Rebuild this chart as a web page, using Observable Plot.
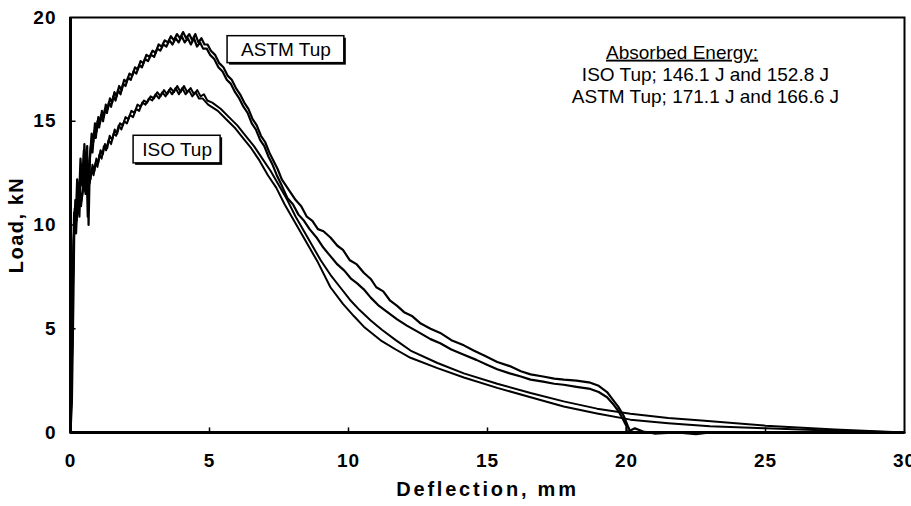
<!DOCTYPE html>
<html><head><meta charset="utf-8">
<script src="https://cdn.jsdelivr.net/npm/d3@7"></script>
<script src="https://cdn.jsdelivr.net/npm/@observablehq/plot@0.6"></script>
<style>
html,body{margin:0;padding:0;background:#fff;}
</style></head>
<body><div id="chart"></div>
<script>
// ---- data (deflection mm, load kN) ----
const deflectionTicks = [0, 5, 10, 15, 20, 25, 30];
const loadTicks = [0, 5, 10, 15, 20];

const astm1 = [[0,0],[0.05,1.5],[0.1,6],[0.14,10.2],[0.2,9.6],[0.26,11.5],[0.32,10.4],[0.38,12.8],[0.44,11.9],[0.5,13.9],[0.56,12.2],[0.6,13.8],[0.65,10.0],[0.7,13.2],[0.76,14.4],[0.82,14.0],[0.88,14.9],[0.94,14.5],[1.0,15.2],[1.06,14.9],[1.13,15.5],[1.2,15.2],[1.27,15.8],[1.34,15.6],[1.42,16.1],[1.5,15.9],[1.58,16.4],[1.66,16.2],[1.75,16.7],[1.84,16.5],[1.93,17.0],[2.02,16.9],[2.12,17.3],[2.22,17.2],[2.32,17.6],[2.42,17.5],[2.52,17.9],[2.62,17.8],[2.73,18.2],[2.84,18.1],[2.95,18.4],[3.06,18.3],[3.17,18.7],[3.28,18.6],[3.39,18.9],[3.5,18.8],[3.61,19.1],[3.72,18.9],[3.83,19.2],[3.94,19.0],[4.05,19.3],[4.16,19.0],[4.27,19.2],[4.38,18.9],[4.49,19.2],[4.6,18.8],[4.71,19.0],[4.82,18.7],[4.93,18.7],[5.05,18.4],[5.2,18.2],[5.35,17.8],[5.5,17.6],[5.65,17.2],[5.8,17.0],[5.95,16.6],[6.1,16.3],[6.25,15.9],[6.4,15.6],[6.55,15.1],[6.7,14.8],[6.85,14.3],[7.0,14.0],[7.15,13.5],[7.3,13.1],[7.45,12.7],[7.6,12.2],[7.75,11.9],[7.9,11.6],[8.1,11.2],[8.3,10.9],[8.5,10.4],[8.7,10.2],[8.9,9.8],[9.1,9.7],[9.35,9.4],[9.6,9.0],[9.8,8.8],[10.05,8.3],[10.3,8.1],[10.55,7.7],[10.8,7.4],[11.0,7.0],[11.25,6.8],[11.5,6.35],[11.75,6.1],[12.0,5.8],[12.3,5.6],[12.6,5.25],[12.95,5.0],[13.3,4.8],[13.7,4.45],[14.15,4.2],[14.5,3.95],[14.9,3.7],[15.35,3.4],[15.8,3.2],[16.2,2.95],[16.55,2.8],[17.0,2.7],[17.4,2.6],[17.75,2.55],[18.2,2.5],[18.7,2.4],[19.0,2.25],[19.3,1.95],[19.5,1.6],[19.7,1.25],[19.9,0.8],[20.05,0.3],[20.15,0]];

const astm2 = [[0,0],[0.04,2.5],[0.09,8],[0.13,10.6],[0.18,10.0],[0.24,12.2],[0.3,11.0],[0.36,13.2],[0.42,12.0],[0.48,13.6],[0.54,11.5],[0.58,12.8],[0.62,10.4],[0.67,12.9],[0.73,13.8],[0.79,13.5],[0.85,14.5],[0.91,14.2],[0.97,15.0],[1.03,14.7],[1.1,15.3],[1.17,15.0],[1.24,15.6],[1.31,15.4],[1.38,15.9],[1.46,15.7],[1.54,16.2],[1.62,16.0],[1.71,16.5],[1.8,16.3],[1.89,16.8],[1.98,16.7],[2.07,17.1],[2.17,17.0],[2.27,17.4],[2.37,17.3],[2.47,17.7],[2.57,17.6],[2.68,18.0],[2.79,17.9],[2.9,18.2],[3.01,18.1],[3.12,18.5],[3.23,18.4],[3.34,18.7],[3.45,18.6],[3.56,18.9],[3.67,18.7],[3.78,19.0],[3.89,18.8],[4.0,19.1],[4.11,18.8],[4.22,19.0],[4.33,18.7],[4.44,19.0],[4.55,18.6],[4.66,18.8],[4.77,18.5],[4.9,18.5],[5.02,18.2],[5.17,18.0],[5.32,17.6],[5.47,17.4],[5.62,17.0],[5.77,16.8],[5.92,16.4],[6.07,16.1],[6.22,15.7],[6.37,15.4],[6.52,14.9],[6.67,14.6],[6.82,14.1],[6.97,13.8],[7.12,13.3],[7.27,12.9],[7.42,12.4],[7.6,11.9],[7.8,11.3],[8.0,11.0],[8.2,10.5],[8.4,10.2],[8.6,9.8],[8.85,9.4],[9.1,8.9],[9.35,8.5],[9.6,8.1],[9.85,7.8],[10.1,7.4],[10.3,7.2],[10.55,6.9],[10.8,6.5],[11.1,6.1],[11.4,5.8],[11.75,5.45],[12.1,5.15],[12.5,4.85],[12.95,4.5],[13.3,4.3],[13.7,4.0],[14.15,3.75],[14.6,3.5],[15.0,3.25],[15.35,3.05],[15.8,2.85],[16.2,2.7],[16.55,2.55],[17.0,2.45],[17.4,2.35],[17.74,2.3],[18.2,2.2],[18.7,2.1],[19.0,1.95],[19.3,1.7],[19.5,1.4],[19.7,1.05],[19.85,0.7],[20.0,0.3],[20.0,0],[20.3,0.2],[20.6,0.05],[21.0,-0.05],[21.8,0],[22.5,-0.08],[23.0,0]];

const iso1 = [[0,0],[0.05,3],[0.1,8.5],[0.15,10.8],[0.22,10.2],[0.3,11.4],[0.38,10.9],[0.46,11.9],[0.54,11.6],[0.6,12.0],[0.66,12.5],[0.72,12.2],[0.79,12.9],[0.86,12.6],[0.93,13.2],[1.0,13.0],[1.08,13.6],[1.16,13.4],[1.24,13.9],[1.32,13.7],[1.41,14.3],[1.5,14.1],[1.59,14.6],[1.68,14.4],[1.78,14.9],[1.88,14.8],[1.98,15.2],[2.08,15.1],[2.19,15.5],[2.3,15.4],[2.41,15.8],[2.52,15.7],[2.64,16.0],[2.76,15.9],[2.88,16.2],[3.0,16.1],[3.12,16.4],[3.24,16.2],[3.36,16.5],[3.48,16.3],[3.6,16.6],[3.72,16.4],[3.84,16.7],[3.96,16.4],[4.08,16.7],[4.2,16.4],[4.32,16.6],[4.44,16.3],[4.56,16.5],[4.68,16.2],[4.8,16.3],[4.92,16.0],[5.1,15.9],[5.4,15.6],[5.7,15.2],[6.0,14.8],[6.3,14.3],[6.6,13.8],[6.9,13.2],[7.2,12.6],[7.5,11.9],[7.8,11.2],[8.1,10.4],[8.4,9.7],[8.7,9.0],[9.0,8.3],[9.35,7.6],[9.7,7.0],[10.05,6.4],[10.4,5.9],[10.8,5.4],[11.2,4.95],[11.7,4.45],[12.23,3.95],[13.2,3.35],[14.15,2.85],[15.35,2.35],[16.55,1.9],[17.74,1.5],[18.94,1.15],[20.14,0.9],[21.5,0.7],[22.7,0.58],[25,0.33],[27.5,0.14],[30,0]];

const iso2 = [[0,0],[0.06,4],[0.11,9],[0.17,11.2],[0.24,10.6],[0.32,11.8],[0.4,11.2],[0.5,12.2],[0.57,11.8],[0.63,12.3],[0.69,12.0],[0.76,12.7],[0.83,12.4],[0.9,13.0],[0.97,12.8],[1.04,13.4],[1.12,13.2],[1.2,13.8],[1.28,13.6],[1.37,14.1],[1.46,13.9],[1.55,14.4],[1.64,14.3],[1.73,14.8],[1.83,14.6],[1.93,15.0],[2.03,14.9],[2.14,15.3],[2.25,15.2],[2.36,15.6],[2.47,15.5],[2.58,15.9],[2.7,15.8],[2.82,16.1],[2.94,16.0],[3.06,16.3],[3.18,16.1],[3.3,16.4],[3.42,16.2],[3.54,16.5],[3.66,16.3],[3.78,16.6],[3.9,16.3],[4.02,16.6],[4.14,16.3],[4.26,16.5],[4.38,16.2],[4.5,16.4],[4.62,16.1],[4.75,16.1],[4.95,15.8],[5.3,15.5],[5.6,15.1],[5.9,14.7],[6.2,14.2],[6.5,13.7],[6.8,13.1],[7.1,12.4],[7.4,11.8],[7.7,11.0],[8.0,10.3],[8.3,9.6],[8.6,8.9],[8.9,8.2],[9.35,7.0],[9.8,6.2],[10.2,5.6],[10.55,5.1],[11.2,4.4],[11.7,4.0],[12.23,3.6],[13.2,3.1],[14.15,2.65],[15.35,2.15],[16.55,1.7],[17.74,1.25],[18.94,0.92],[20.14,0.62],[21.5,0.45],[23,0.3],[25,0.2],[27.5,0.08],[30,0]];

// ---- annotations ----
const boxLabels = [
  {text: "ASTM Tup", x1: 5.65, x2: 9.85, y1: 17.8, y2: 19.1},
  {text: "ISO Tup", x1: 2.27, x2: 5.4, y1: 12.97, y2: 14.3}
];
const energyLines = [
  {text: "Absorbed Energy:", x: 22.0, y: 18.31},
  {text: "ISO Tup; 146.1 J and 152.8 J", x: 22.84, y: 17.25},
  {text: "ASTM Tup; 171.1 J and 166.6 J", x: 22.84, y: 16.19}
];

const toRows = (arr, s) => arr.map(([x, y]) => ({x, y, series: s}));
const series = [
  {name: "ASTM 1", pts: astm1, w: 2.2},
  {name: "ASTM 2", pts: astm2, w: 2.2},
  {name: "ISO 1", pts: iso1, w: 2},
  {name: "ISO 2", pts: iso2, w: 2}
];

const font = "'Liberation Sans', Arial, Helvetica, sans-serif";

const chart = Plot.plot({
  width: 911,
  height: 506,
  marginLeft: 70,
  marginRight: 7,
  marginTop: 17,
  marginBottom: 74,
  style: {fontFamily: font, background: "#fff", color: "#000", overflow: "visible"},
  x: {domain: [0, 30]},
  y: {domain: [0, 20]},
  marks: [
    ...series.map(s => Plot.line(toRows(s.pts, s.name), {x: "x", y: "y", stroke: "#000", strokeWidth: s.w, strokeLinejoin: "round"})),
    Plot.frame({stroke: "#000", strokeWidth: 2}),
    Plot.ruleX([0], {stroke: "#000", strokeWidth: 3}),
    Plot.ruleY([0], {stroke: "#000", strokeWidth: 3}),
    Plot.ruleX(deflectionTicks.slice(1, -1), {y1: 0, y2: 0.22, stroke: "#000", strokeWidth: 1.5}),
    Plot.ruleY(loadTicks.slice(1, -1), {x1: 0, x2: 0.2, stroke: "#000", strokeWidth: 1.5}),
    Plot.axisX({ticks: deflectionTicks, tickSize: 0, tickPadding: 21, fontSize: 19, fontWeight: "bold", label: null, tickFormat: d => String(d)}),
    Plot.axisY({ticks: loadTicks, tickSize: 0, tickPadding: 14, fontSize: 19, fontWeight: "bold", label: null, tickFormat: d => String(d)}),
    Plot.text(["Deflection, mm"], {frameAnchor: "bottom", lineAnchor: "middle", textAnchor: "middle", dy: 57, fontSize: 20, fontWeight: "bold", fill: "#000"}),
    Plot.text(["Load, kN"], {frameAnchor: "left", textAnchor: "middle", lineAnchor: "middle", dx: -54, rotate: -90, fontSize: 20, fontWeight: "bold", fill: "#000"}),
    // label boxes with shadow
    Plot.rect(boxLabels, {x1: "x1", x2: "x2", y1: "y1", y2: "y2", fill: "#000", dx: 2, dy: 2}),
    Plot.rect(boxLabels, {x1: "x1", x2: "x2", y1: "y1", y2: "y2", fill: "#fff", stroke: "#000", strokeWidth: 1.5}),
    Plot.text(boxLabels, {x: d => (d.x1 + d.x2) / 2, y: d => (d.y1 + d.y2) / 2, text: "text", fontSize: 19, fill: "#000"}),
    Plot.text(energyLines, {x: "x", y: "y", text: "text", fontSize: 19, fill: "#000"})
  ]
});

d3.select(chart).selectAll("text").filter(function() { return this.textContent === "Absorbed Energy:"; })
  .attr("text-decoration", "underline");
d3.select(chart).selectAll("text").filter(function() { return this.textContent === "Deflection, mm"; })
  .attr("letter-spacing", "2.8px");
d3.select(chart).selectAll("text").filter(function() { return this.textContent === "Load, kN"; })
  .attr("letter-spacing", "1.5px");
d3.select(chart).selectAll("g[aria-label='x-axis tick label'] text, g[aria-label='y-axis tick label'] text")
  .attr("letter-spacing", "1px");

document.getElementById("chart").appendChild(chart);
</script>
</body></html>
